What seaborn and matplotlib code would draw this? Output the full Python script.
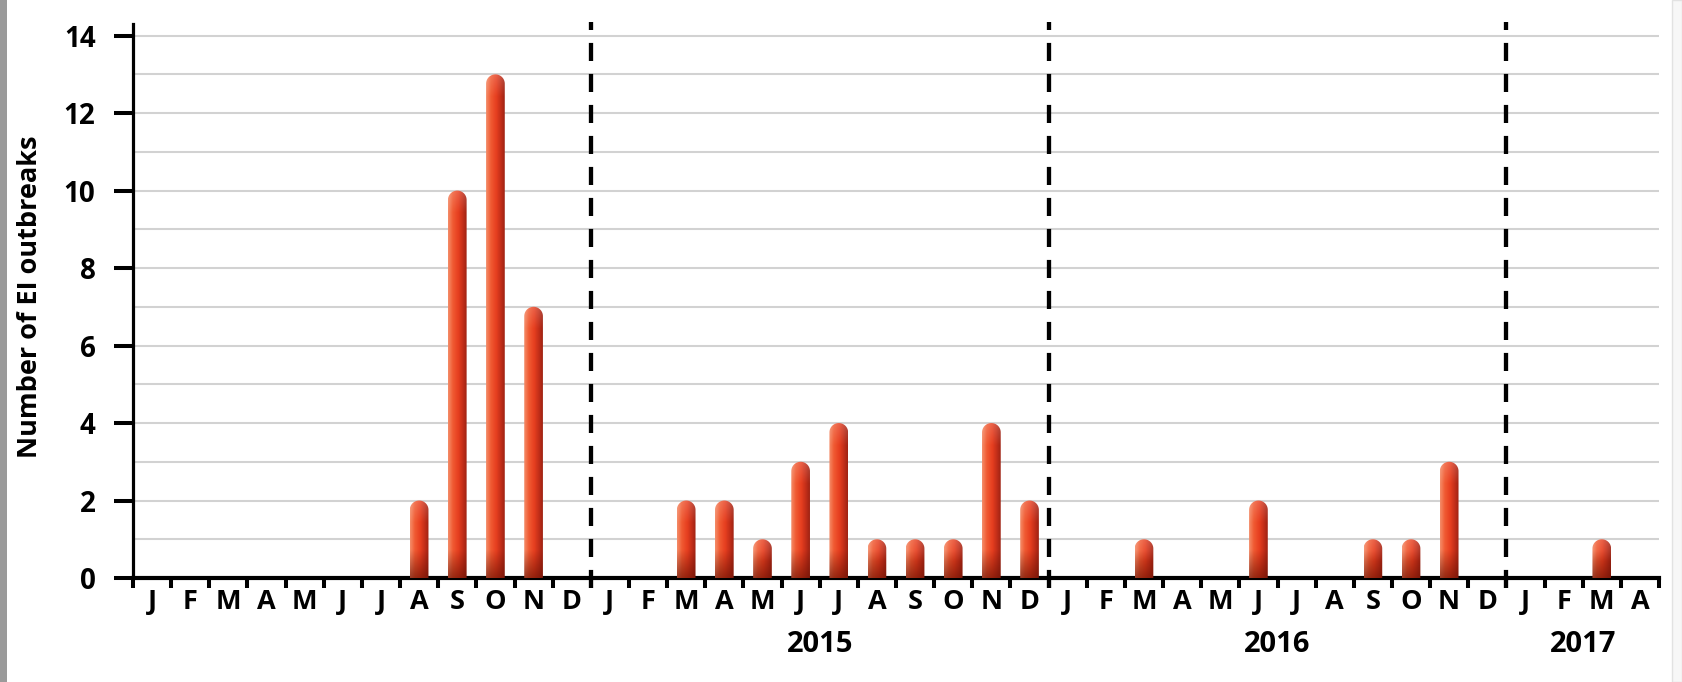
import numpy as np
import pandas as pd
import matplotlib
matplotlib.use("Agg")
import matplotlib.pyplot as plt
import matplotlib.transforms as mtransforms
from matplotlib.path import Path
from matplotlib.patches import PathPatch, Rectangle
from matplotlib.colors import to_rgb
import seaborn as sns

# monthly EI outbreak counts, Jan 2014 -> Apr 2017
month_letters = ["J", "F", "M", "A", "M", "J", "J", "A", "S", "O", "N", "D"]
years = [2014, 2015, 2016, 2017]
year_labels = ["", "2015", "2016", "2017"]
outbreaks_2014 = [0, 0, 0, 0, 0, 0, 0, 2, 10, 13, 7, 0]
outbreaks_2015 = [0, 0, 2, 2, 1, 3, 4, 1, 1, 1, 4, 2]
outbreaks_2016 = [0, 0, 1, 0, 0, 2, 0, 0, 1, 1, 3, 0]
outbreaks_2017 = [0, 0, 1, 0]

per_year = [outbreaks_2014, outbreaks_2015, outbreaks_2016, outbreaks_2017]
counts = [c for yr in per_year for c in yr]
year_of = [y for y, yr in zip(years, per_year) for _ in yr]
letters = [month_letters[i % 12] for i in range(len(counts))]
df = pd.DataFrame({"pos": range(len(counts)), "count": counts, "year": year_of})
n = len(df)

sns.set_theme(style="white")
plt.rcParams["font.family"] = ["Open Sans", "DejaVu Sans"]
plt.rcParams["font.weight"] = "bold"
plt.rcParams["text.color"] = "black"
plt.rcParams["axes.labelcolor"] = "black"
plt.rcParams["xtick.color"] = "black"
plt.rcParams["ytick.color"] = "black"

W, H = 1682, 682
fig = plt.figure(figsize=(W / 100, H / 100), dpi=100)
ax = fig.add_axes([133 / W, 1 - 578 / H, (1659 - 133) / W, (578 - 24) / H])

sns.barplot(data=df, x="pos", y="count", order=range(n), width=0.49,
            color="#e8401f", saturation=1, ax=ax, zorder=3)

YMAX = 14.3
ax.set_xlim(-0.5, n - 0.5)
ax.set_ylim(0, YMAX)

# cylinder-like shading for each bar, clipped to a round-topped shape
x_stops = [0.0, 0.25, 0.55, 0.8, 1.0]
x_cols = np.array([to_rgb(c) for c in ["#f48a66", "#f05a32", "#e63e1f", "#c22e19", "#a02313"]])
dark = np.array(to_rgb("#6a1204"))
light = np.array(to_rgb("#ffffff"))

ppx = ax.transData.transform((1, 0))[0] - ax.transData.transform((0, 0))[0]
ppy = ax.transData.transform((0, 1))[1] - ax.transData.transform((0, 0))[1]

for p in list(ax.patches):
    h = p.get_height()
    x0, w = p.get_x(), p.get_width()
    p.set_visible(False)
    if h <= 0:
        continue
    rx = w / 2
    ry = rx * ppx / ppy
    xc = x0 + rx
    t = np.linspace(np.pi, 0, 40)
    verts = [(x0, 0), (x0, h - ry)]
    verts += [(xc + rx * np.cos(a), h - ry + ry * np.sin(a)) for a in t]
    verts += [(x0 + w, 0), (x0, 0)]
    codes = [Path.MOVETO] + [Path.LINETO] * (len(verts) - 2) + [Path.CLOSEPOLY]
    shape = PathPatch(Path(verts, codes), facecolor="none", edgecolor="none",
                      transform=ax.transData)
    ax.add_patch(shape)

    nx, ny = 24, max(int(h * ppy), 4)
    fx = np.linspace(0, 1, nx)
    row = np.stack([np.interp(fx, x_stops, x_cols[:, k]) for k in range(3)], axis=-1)
    ypx = np.linspace(0, h * ppy, ny)
    tb = np.clip((28 - ypx) / 28, 0, 1)[:, None, None] * 0.65
    tt = np.clip((ypx - (h * ppy - 22)) / 22, 0, 1)[:, None, None] * 0.18
    img = row[None, :, :] * (1 - tb) + dark * tb
    img = img * (1 - tt) + light * tt
    im = ax.imshow(img, extent=[x0, x0 + w, 0, h], origin="lower", aspect="auto",
                   interpolation="bilinear", zorder=3)
    im.set_clip_path(shape)

ax.set_xlim(-0.5, n - 0.5)
ax.set_ylim(0, YMAX)

# axes, ticks, grid
ax.set_yticks(range(0, 15, 2))
ax.set_yticks(range(0, 15), minor=True)
ax.yaxis.grid(True, which="both", color="#d2d2d2", linewidth=1.5, zorder=0)
ax.xaxis.grid(False)
ax.set_axisbelow(True)
ax.tick_params(axis="y", which="major", length=14, width=2.9, color="black",
               labelcolor="black", labelsize=20, pad=13, left=True)
ax.tick_params(axis="y", which="minor", length=0)

ax.set_xticks(range(n))
ax.set_xticklabels(letters)
ax.set_xticks(np.arange(-0.5, n), minor=True)
ax.tick_params(axis="x", which="major", length=0, labelsize=19.5, pad=8,
               labelcolor="black")
ax.tick_params(axis="x", which="minor", length=7, width=2.9, color="black", bottom=True)
for lab in ax.get_xticklabels() + ax.get_yticklabels():
    lab.set_fontweight("bold")

for s in ["top", "right"]:
    ax.spines[s].set_visible(False)
ax.spines["left"].set_linewidth(2.3)
ax.spines["bottom"].set_linewidth(3)
ax.spines["left"].set_color("black")
ax.spines["bottom"].set_color("black")
ax.set_xlabel("")
ax.set_ylabel("Number of EI outbreaks", fontsize=19.5, fontweight="bold",
              color="black", va="center")
ax.yaxis.set_label_coords(30 / W, 1 - 297 / H, transform=fig.transFigure)

# year separators and year labels
for y in years[1:]:
    xb = df.loc[df["year"] == y, "pos"].min() - 0.5
    ax.plot([xb, xb], [-0.25, YMAX + 0.06], color="black", linewidth=3.1,
            linestyle=(0, (4.2, 3.0)), clip_on=False, zorder=4)

trans = mtransforms.blended_transform_factory(ax.transData, fig.transFigure)
for y, lab in zip(years, year_labels):
    if not lab:
        continue
    centre = df.loc[df["year"] == y, "pos"].mean()
    ax.text(centre, 1 - 645 / H, lab, transform=trans, ha="center", va="center",
            fontsize=21, fontweight="bold", color="black")

# screenshot edges
fig.patches.append(Rectangle((0, 0), 7 / W, 1, transform=fig.transFigure,
                             facecolor="#9a9a9a", edgecolor="none"))
fig.patches.append(Rectangle((1672 / W, 0), 1 - 1672 / W, 1, transform=fig.transFigure,
                             facecolor="#f7f7f7", edgecolor="#e2e2e2", linewidth=1))

fig.savefig("out.png", dpi=100)
